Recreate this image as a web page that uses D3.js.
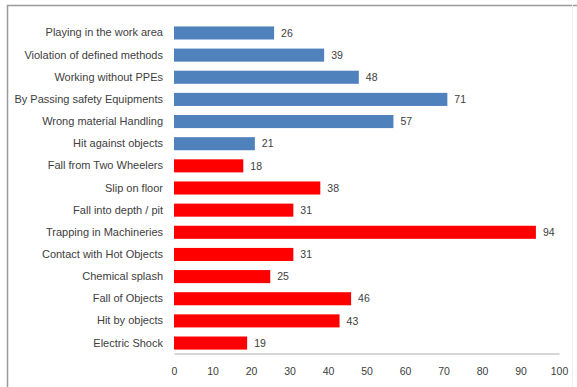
<!DOCTYPE html>
<html><head><meta charset="utf-8">
<script src="https://cdn.jsdelivr.net/npm/d3@7"></script>
<style>body{margin:0;background:#fff;}svg{display:block;}</style>
</head><body>
<script>
const categories = ["Playing in the work area","Violation of defined methods","Working without PPEs","By Passing safety Equipments","Wrong material Handling","Hit against  objects","Fall from Two Wheelers","Slip on floor","Fall into depth / pit","Trapping in Machineries","Contact with Hot Objects","Chemical splash","Fall of Objects","Hit by objects","Electric Shock"];
const values = [26,39,48,71,57,21,18,38,31,94,31,25,46,43,19];
const groups = ["blue","blue","blue","blue","blue","blue","red","red","red","red","red","red","red","red","red"];
const tickValues = [0,10,20,30,40,50,60,70,80,90,100];
const colors = {blue:"#4F81BD", red:"#FF0000"};

const W=577,H=387;
const svg=d3.select("body").append("svg").attr("width",W).attr("height",H);
svg.append("rect").attr("width",W).attr("height",H).attr("fill","#fff");
// frame
svg.append("line").attr("x1",7).attr("x2",577).attr("y1",5.5).attr("y2",5.5).attr("stroke","#9a9a9a").attr("stroke-width",1.5);
svg.append("line").attr("x1",7.5).attr("x2",7.5).attr("y1",5).attr("y2",387).attr("stroke","#9a9a9a").attr("stroke-width",1.5);
svg.append("line").attr("x1",572.5).attr("x2",572.5).attr("y1",5).attr("y2",387).attr("stroke","#eeeeee").attr("stroke-width",1);

const x=d3.scaleLinear().domain([0,100]).range([174,559]);
const y=d3.scaleBand().domain(categories).range([22,354]).paddingInner(0.41).paddingOuter(0.2);
const font="'Liberation Sans', Arial, sans-serif";

svg.selectAll("rect.bar").data(categories).join("rect").attr("class","bar")
  .attr("x",x(0)).attr("y",d=>y(d)).attr("height",y.bandwidth())
  .attr("width",(d,i)=>x(values[i])-x(0)).attr("fill",(d,i)=>colors[groups[i]]);

svg.selectAll("text.val").data(categories).join("text").attr("class","val")
  .attr("x",(d,i)=>x(values[i])+7).attr("y",d=>y(d)+y.bandwidth()/2).attr("dy","0.35em")
  .attr("font-family",font).attr("font-size",10.5).attr("fill","#404040")
  .text((d,i)=>values[i]);

const ya=svg.append("g").attr("transform",`translate(${x(0)},0)`).call(d3.axisLeft(y).tickSize(0).tickPadding(11));
ya.select(".domain").remove();
ya.selectAll("text").attr("font-family",font).attr("font-size",11).attr("fill","#404040");

const xa=svg.append("g").attr("transform",`translate(0,353.5)`).call(d3.axisBottom(x).tickValues(tickValues).tickSize(0).tickPadding(14));
xa.select(".domain").attr("stroke","#c8c8c8").attr("stroke-width",1.5);
xa.selectAll("text").attr("font-family",font).attr("font-size",10.5).attr("fill","#404040");
</script>
</body></html>
